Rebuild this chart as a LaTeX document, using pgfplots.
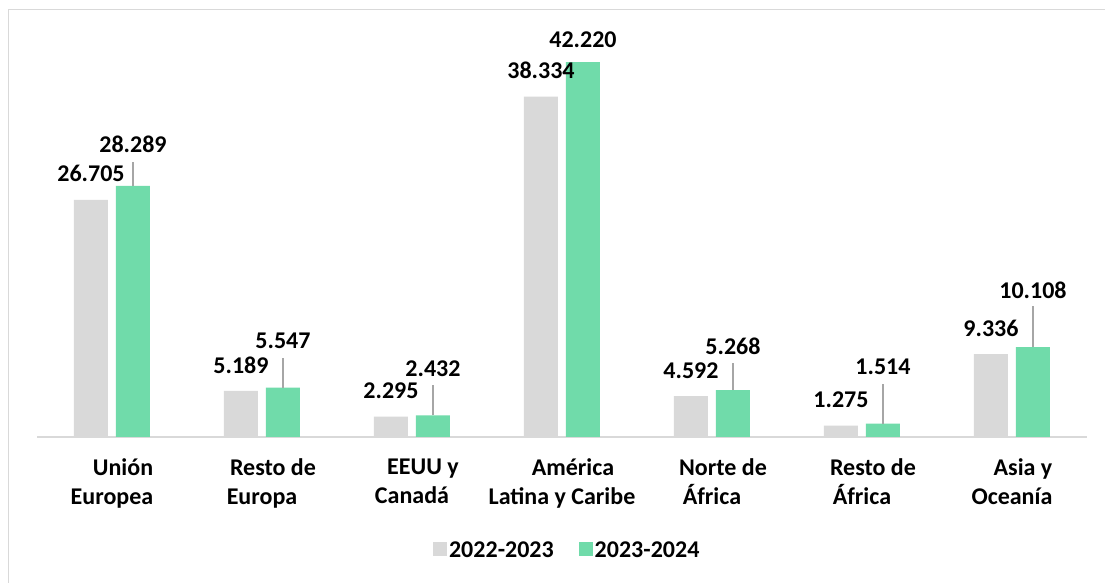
\documentclass[border=0pt]{standalone}
\usepackage{fontspec}
\setmainfont{Carlito}
\usepackage{pgfplots}
\usepackage{pgfplotstable}
\pgfplotsset{compat=1.18}

\definecolor{barGray}{RGB}{217,217,217}
\definecolor{barGreen}{RGB}{112,219,170}
\definecolor{axisGray}{RGB}{217,217,217}
\definecolor{leadGray}{RGB}{166,166,166}

\newcommand{\chartfont}{\fontsize{24}{29}\selectfont\bfseries}
\newcommand{\fl}{\hspace*{22pt}}

% ly = height of the green label, err = leader line length (data units)
\pgfplotstableread{
x a b ly err
0 26705 28289 32906 2703
1 5189 5547 10840 3378
2 2295 2432 7725 3378
3 38334 42220 44697 0
4 4592 5268 10223 3040
5 1275 1514 7933 4505
6 9336 10108 16527 4617
}\data

\begin{document}
\begin{tikzpicture}
\useasboundingbox (0,0) rectangle (1105pt,583pt);
\fill[white] (0,0) rectangle (1105pt,583pt);
\draw[black!15, line width=1pt] (8pt,0) -- (8pt,573pt) -- (1105pt,573pt);
\begin{axis}[
    at={(37pt,146pt)}, anchor=south west,
    scale only axis,
    width=1050pt, height=399.6pt,
    xmin=-0.5, xmax=6.5,
    ymin=0, ymax=45000,
    ybar, bar width=34pt,
    axis x line*=bottom,
    axis y line=none,
    x axis line style={draw=axisGray, line width=1.5pt, -},
    xtick={0,...,6},
    xticklabels={\fl Unión\\Europea, \fl Resto de\\Europa, \fl EEUU y\\Canadá,
      \fl América\\Latina y Caribe, \fl Norte de\\África, \fl Resto de\\África, \fl Asia y\\Oceanía},
    xticklabel style={font=\chartfont, align=center, yshift=-18pt},
    major tick length=0pt,
    ytick=\empty,
    legend columns=2,
    legend style={at={(0.505,-0.283)}, anchor=center, draw=none, fill=none,
      font=\chartfont,
      /tikz/every even column/.append style={column sep=23pt}},
    legend image code/.code={\fill[#1] (-3pt,-6pt) rectangle (11pt,8pt);},
    label num/.style={
      nodes near coords={\pgfmathprintnumber[fixed,precision=0,1000 sep={.},assume math mode=true]{\pgfplotspointmeta}},
      nodes near coords style={font=\chartfont, text=black}},
]
\addplot[fill=barGray, draw=none, bar shift=-21pt, label num, point meta=y,
    every node near coord/.append style={anchor=center, yshift=26pt}]
  table[x=x, y=a] {\data};
\addlegendentry{2022-2023}
\addplot[fill=barGreen, draw=none, bar shift=21pt]
  table[x=x, y=b] {\data};
\addlegendentry{2023-2024}
% leader lines of the green labels
\addplot[forget plot, draw=none, fill=none, bar shift=21pt,
    error bars/.cd, y dir=plus, y explicit, error mark=none,
    error bar style={draw=leadGray, line width=1.3pt}]
  table[x=x, y=b, y error=err] {\data};
% green labels, placed at the top of their leader lines
\addplot[forget plot, draw=none, fill=none, bar shift=21pt, label num,
    point meta=explicit,
    every node near coord/.append style={anchor=center, yshift=0pt}]
  table[x=x, y=ly, meta=b] {\data};
\end{axis}
\end{tikzpicture}
\end{document}
